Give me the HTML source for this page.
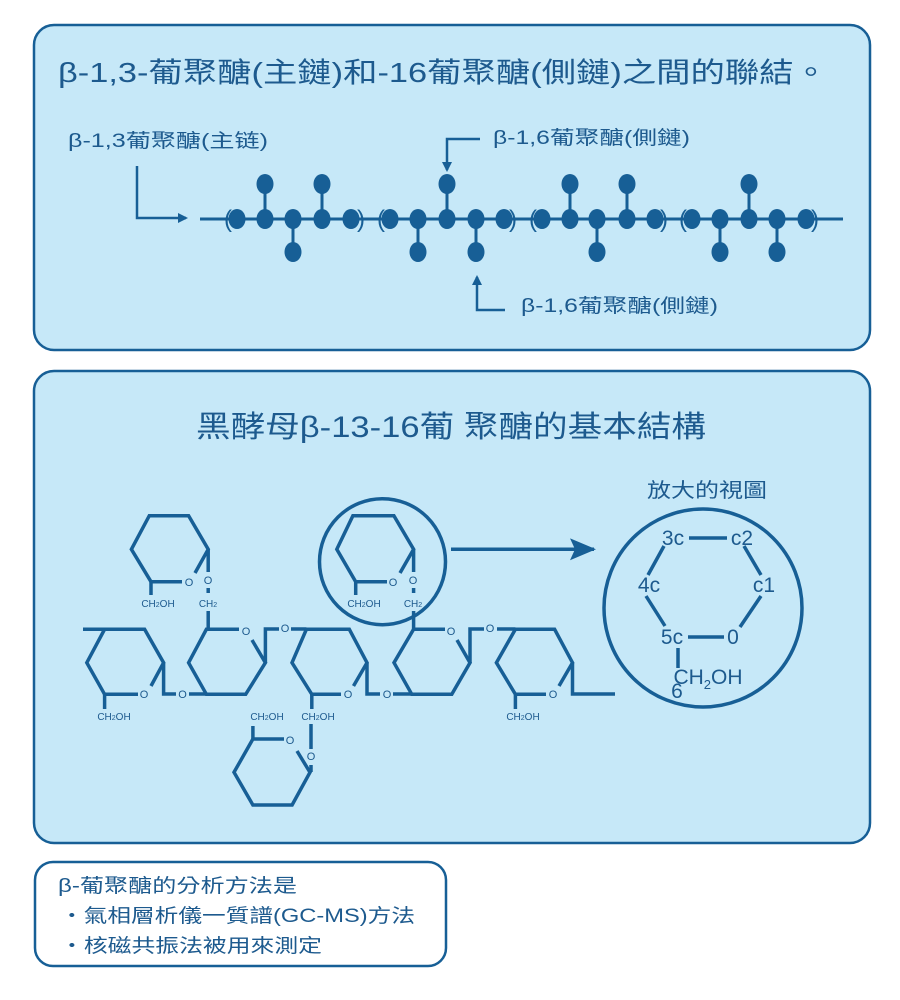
<!DOCTYPE html>
<html><head><meta charset="utf-8"><style>
html,body{margin:0;padding:0;background:#fff;}
body{width:900px;height:1000px;overflow:hidden;}
svg{display:block;font-family:"Liberation Sans","Noto Sans CJK TC",sans-serif;}
</style></head><body>
<svg width="900" height="1000" viewBox="0 0 900 1000" xmlns="http://www.w3.org/2000/svg">
<defs>
<marker id="ah" markerWidth="10" markerHeight="10" refX="8" refY="5" orient="auto" markerUnits="userSpaceOnUse"><path d="M0,0 L10,5 L0,10 Z" fill="#175f96"/></marker>
<marker id="ah2" markerWidth="26" markerHeight="22" refX="24" refY="11" orient="auto" markerUnits="userSpaceOnUse"><path d="M0,0 L26,11 L0,22 L5,11 Z" fill="#175f96"/></marker>
</defs>
<rect x="34" y="25" width="836" height="325" rx="20" fill="#c6e8f8" stroke="#175f96" stroke-width="2.5"/>
<rect x="34" y="371" width="836" height="472" rx="20" fill="#c6e8f8" stroke="#175f96" stroke-width="2.5"/>
<rect x="35" y="862" width="411" height="104" rx="18" fill="#fff" stroke="#175f96" stroke-width="2.5"/>

<g fill="#1d5a8e">
<text x="58" y="82" font-size="28" textLength="770" lengthAdjust="spacingAndGlyphs">β-1,3-葡聚醣(主鏈)和-16葡聚醣(側鏈)之間的聯結。</text>
<text x="68" y="147" font-size="19" textLength="200" lengthAdjust="spacingAndGlyphs">β-1,3葡聚醣(主链)</text>
<text x="493" y="144" font-size="19" textLength="197" lengthAdjust="spacingAndGlyphs">β-1,6葡聚醣(側鏈)</text>
<text x="521" y="312" font-size="19" textLength="197" lengthAdjust="spacingAndGlyphs">β-1,6葡聚醣(側鏈)</text>
<text x="196" y="437" font-size="30" textLength="510" lengthAdjust="spacingAndGlyphs">黑酵母β-13-16葡 聚醣的基本結構</text>
<text x="647" y="497" font-size="20" textLength="120" lengthAdjust="spacingAndGlyphs">放大的視圖</text>
<text x="58" y="892" font-size="19" textLength="239" lengthAdjust="spacingAndGlyphs">β-葡聚醣的分析方法是</text>
<text x="60" y="922" font-size="19" textLength="355" lengthAdjust="spacingAndGlyphs">・氣相層析儀一質譜(GC-MS)方法</text>
<text x="60" y="952" font-size="19" textLength="262" lengthAdjust="spacingAndGlyphs">・核磁共振法被用來測定</text>
</g>

<!-- panel 1 arrows -->
<g stroke="#175f96" stroke-width="2.5" fill="none">
<path d="M137,166 V218 H186" marker-end="url(#ah)"/>
<path d="M480,139 H447 V170" marker-end="url(#ah)"/>
<path d="M505,310 H477 V277" marker-end="url(#ah)"/>
<line x1="200" y1="219" x2="843" y2="219" stroke-width="3"/>
</g>
<g stroke="#175f96" stroke-width="3">
<line x1="265" y1="184" x2="265" y2="219"/><line x1="322" y1="184" x2="322" y2="219"/>
<line x1="293" y1="219" x2="293" y2="252"/>
<line x1="418" y1="219" x2="418" y2="252"/><line x1="447" y1="184" x2="447" y2="219"/><line x1="476" y1="219" x2="476" y2="252"/>
<line x1="570" y1="184" x2="570" y2="219"/><line x1="627" y1="184" x2="627" y2="219"/><line x1="597" y1="219" x2="597" y2="252"/>
<line x1="720" y1="219" x2="720" y2="252"/><line x1="749" y1="184" x2="749" y2="219"/><line x1="777" y1="219" x2="777" y2="252"/>
</g>
<g fill="#175f96">
<ellipse cx="237" cy="219" rx="8.5" ry="10"/><ellipse cx="265" cy="219" rx="8.5" ry="10"/><ellipse cx="293" cy="219" rx="8.5" ry="10"/><ellipse cx="322" cy="219" rx="8.5" ry="10"/><ellipse cx="351" cy="219" rx="8.5" ry="10"/>
<ellipse cx="390" cy="219" rx="8.5" ry="10"/><ellipse cx="418" cy="219" rx="8.5" ry="10"/><ellipse cx="447" cy="219" rx="8.5" ry="10"/><ellipse cx="476" cy="219" rx="8.5" ry="10"/><ellipse cx="504" cy="219" rx="8.5" ry="10"/>
<ellipse cx="542" cy="219" rx="8.5" ry="10"/><ellipse cx="570" cy="219" rx="8.5" ry="10"/><ellipse cx="597" cy="219" rx="8.5" ry="10"/><ellipse cx="627" cy="219" rx="8.5" ry="10"/><ellipse cx="655" cy="219" rx="8.5" ry="10"/>
<ellipse cx="692" cy="219" rx="8.5" ry="10"/><ellipse cx="720" cy="219" rx="8.5" ry="10"/><ellipse cx="749" cy="219" rx="8.5" ry="10"/><ellipse cx="777" cy="219" rx="8.5" ry="10"/><ellipse cx="806" cy="219" rx="8.5" ry="10"/>
<ellipse cx="265" cy="184" rx="8.5" ry="10"/><ellipse cx="322" cy="184" rx="8.5" ry="10"/><ellipse cx="293" cy="252" rx="8.5" ry="10"/>
<ellipse cx="418" cy="252" rx="8.5" ry="10"/><ellipse cx="447" cy="184" rx="8.5" ry="10"/><ellipse cx="476" cy="252" rx="8.5" ry="10"/>
<ellipse cx="570" cy="184" rx="8.5" ry="10"/><ellipse cx="627" cy="184" rx="8.5" ry="10"/><ellipse cx="597" cy="252" rx="8.5" ry="10"/>
<ellipse cx="720" cy="252" rx="8.5" ry="10"/><ellipse cx="749" cy="184" rx="8.5" ry="10"/><ellipse cx="777" cy="252" rx="8.5" ry="10"/>
</g>
<g fill="#175f96" font-size="24" text-anchor="middle">
<text x="228" y="227">(</text><text x="361" y="227">)</text>
<text x="381" y="227">(</text><text x="513" y="227">)</text>
<text x="533" y="227">(</text><text x="664" y="227">)</text>
<text x="683" y="227">(</text><text x="815" y="227">)</text>
</g>

<!-- panel 2 chemistry -->
<g stroke="#175f96" stroke-width="3.5" fill="none" stroke-linejoin="miter">
<path d="M138,694.3 H104.6 L86.8,662.7 L104.6,629.3 H144.6 L163.6,662.7 L151,686"/>
<path d="M83,629.3 H104.6"/><path d="M104.6,694 V709"/>
<path d="M163.6,662.7 V694 H176"/><path d="M189,694 H206.4"/>
<path d="M239,629.3 H206.4 L188.6,662.7 L206.4,694.3 H245.7 L265.4,662.7 L252,640"/>
<path d="M265.4,662.7 V629 H279"/><path d="M291,629 H306.4"/>
<path d="M341,694.3 H311.8 L292,662.7 L306.4,629.3 H349.3 L367,662.7 L353.5,686"/>
<path d="M311.8,694 V709"/>
<path d="M367,662.7 V694 H380"/><path d="M393,694 H411.8"/>
<path d="M445,629.3 H413.6 L394,662.7 L411.8,694.3 H451.8 L470,662.7 L457,640"/>
<path d="M470,662.7 V629 H484"/><path d="M497,629 H515.4"/>
<path d="M546,694.3 H515.4 L496.4,662.7 L515.4,629.3 H554.6 L572.5,662.7 L559,686"/>
<path d="M515.4,694 V709"/>
<path d="M572.5,662.7 V694 H615"/>
<path d="M182,581.7 H151 L131.4,549.3 L149.3,515.7 H188.6 L208.2,549.3 L195,573"/>
<path d="M151,581.7 V595"/>
<path d="M208.2,549.3 V572"/><path d="M208.2,588 V593"/><path d="M208.2,611 V629"/>
<path d="M387,581.7 H355.7 L336.8,549.3 L352.9,515.7 H393.9 L413.6,549.3 L400,573"/>
<path d="M355.7,581.7 V595"/>
<path d="M413.6,549.3 V572"/><path d="M413.6,588 V593"/><path d="M413.6,611 V629"/>
<path d="M284,739 H252.9 L234,772.3 L252.9,805 H292.1 L310,772.3 L297,751"/>
<path d="M252.9,739 V726"/>
<path d="M311,765 V772"/><path d="M311,749 V724"/>
<circle cx="382.5" cy="561.7" r="63"/>
<path d="M451,549.3 H594" marker-end="url(#ah2)"/>
<circle cx="703" cy="608" r="99"/>
<path d="M689,538 H727"/>
<path d="M744,546 L761,575"/>
<path d="M761,596 L740,627"/>
<path d="M688,637 H724"/>
<path d="M664,546 L648,575"/>
<path d="M646,596 L665,626"/>
<path d="M678,648 V668"/>
</g>
<g fill="#1d5a8e" font-size="11" text-anchor="middle">
<text x="144" y="698">O</text><text x="182.5" y="698">O</text>
<text x="246" y="635">O</text><text x="285" y="632">O</text>
<text x="348" y="698">O</text><text x="387" y="698">O</text>
<text x="451" y="635">O</text><text x="490" y="632">O</text>
<text x="553" y="698">O</text>
<text x="189" y="586">O</text><text x="208" y="584">O</text>
<text x="393" y="586">O</text><text x="413" y="584">O</text>
<text x="290" y="744">O</text><text x="311" y="760">O</text>
</g>
<g fill="#1d5a8e" font-size="10" text-anchor="middle">
<text x="114" y="720">CH<tspan font-size="7">2</tspan>OH</text>
<text x="158" y="607">CH<tspan font-size="7">2</tspan>OH</text>
<text x="208" y="607">CH<tspan font-size="7">2</tspan></text>
<text x="364" y="607">CH<tspan font-size="7">2</tspan>OH</text>
<text x="413" y="607">CH<tspan font-size="7">2</tspan></text>
<text x="267" y="720">CH<tspan font-size="7">2</tspan>OH</text>
<text x="318" y="720">CH<tspan font-size="7">2</tspan>OH</text>
<text x="523" y="720">CH<tspan font-size="7">2</tspan>OH</text>
</g>
<g fill="#1d5a8e" font-size="21" text-anchor="middle">
<text x="673" y="545">3c</text><text x="742" y="545">c2</text>
<text x="649" y="592">4c</text><text x="764" y="592">c1</text>
<text x="672" y="644">5c</text><text x="733" y="644">0</text>
<text x="708" y="684">CH<tspan font-size="13" dy="5">2</tspan><tspan dy="-5">OH</tspan></text>
<text x="677" y="698">6</text>
</g>
</svg>
</body></html>
